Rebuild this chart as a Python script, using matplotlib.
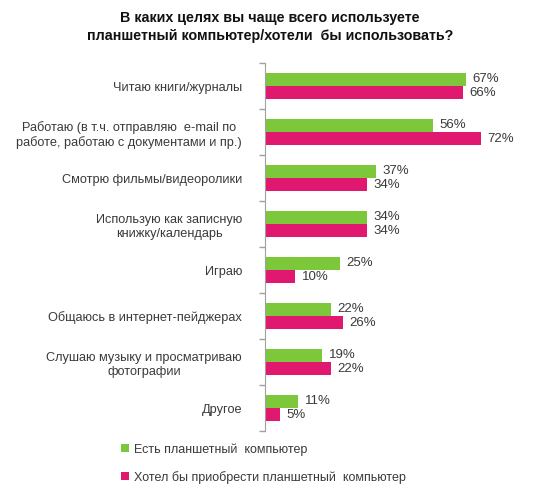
import matplotlib.pyplot as plt
import numpy as np

plt.rcParams['font.family'] = ['Liberation Sans', 'DejaVu Sans']

categories = ['Читаю книги/журналы',
              'Работаю (в т.ч. отправляю  e-mail по\nработе, работаю с документами и пр.)',
              'Смотрю фильмы/видеоролики',
              'Использую как записную\nкнижку/календарь',
              'Играю',
              'Общаюсь в интернет-пейджерах',
              'Слушаю музыку и просматриваю\nфотографии',
              'Другое']
have_tablet = [67, 56, 37, 34, 25, 22, 19, 11]
want_tablet = [66, 72, 34, 34, 10, 26, 22, 5]
series_names = ['Есть планшетный  компьютер',
                'Хотел бы приобрести планшетный  компьютер']

green = '#7dc83a'
pink = '#e0186f'
txt = '#3a3a3a'

fig = plt.figure(figsize=(5.4, 4.97), dpi=100)
ax = fig.add_axes([265 / 540, 1 - 431 / 497, 270 / 540, 368 / 497])

n = len(categories)
y = np.arange(n)
h = 0.28
b1 = ax.barh(y - h / 2, have_tablet, height=h, color=green, label=series_names[0])
b2 = ax.barh(y + h / 2, want_tablet, height=h, color=pink, label=series_names[1])

for yi, v in zip(y, have_tablet):
    ax.text(v + 2.2, yi - h / 2 - 0.02, f'{v}%', va='center', ha='left',
            fontsize=9.5, color=txt)
for yi, v in zip(y, want_tablet):
    ax.text(v + 2.2, yi + h / 2 + 0.02, f'{v}%', va='center', ha='left',
            fontsize=9.5, color=txt)

ax.set_ylim(n - 0.5, -0.5)
ax.set_xlim(0, 90)
ax.set_yticks(np.arange(n + 1) - 0.5)
ax.set_yticklabels([])
ax.set_yticks(y, minor=True)
ax.set_yticklabels(categories, minor=True, fontsize=9.2, color=txt,
                   ha='right', multialignment='center', linespacing=1.3)
ax.tick_params(axis='y', which='minor', length=0, pad=16.5)
ax.tick_params(axis='y', which='major', length=4, color='#a0a0a0', width=1)
ax.set_xticks([])
for s in ['top', 'right', 'bottom']:
    ax.spines[s].set_visible(False)
ax.spines['left'].set_color('#a0a0a0')

fig.text(0.5, 1 - 11 / 497, 'В каких целях вы чаще всего используете\n'
         'планшетный компьютер/хотели  бы использовать?',
         ha='center', va='top', fontsize=10.3, fontweight='bold',
         color='#111111', linespacing=1.35)

fig.legend(handles=[b1, b2], labels=series_names, loc='upper left',
           bbox_to_anchor=(110 / 540, 1 - 432 / 497), frameon=False,
           fontsize=9.0, handlelength=0.6, handleheight=0.6,
           handletextpad=0.4, labelspacing=1.2, labelcolor=txt)

fig.savefig('out.png', dpi=100, facecolor='white')
